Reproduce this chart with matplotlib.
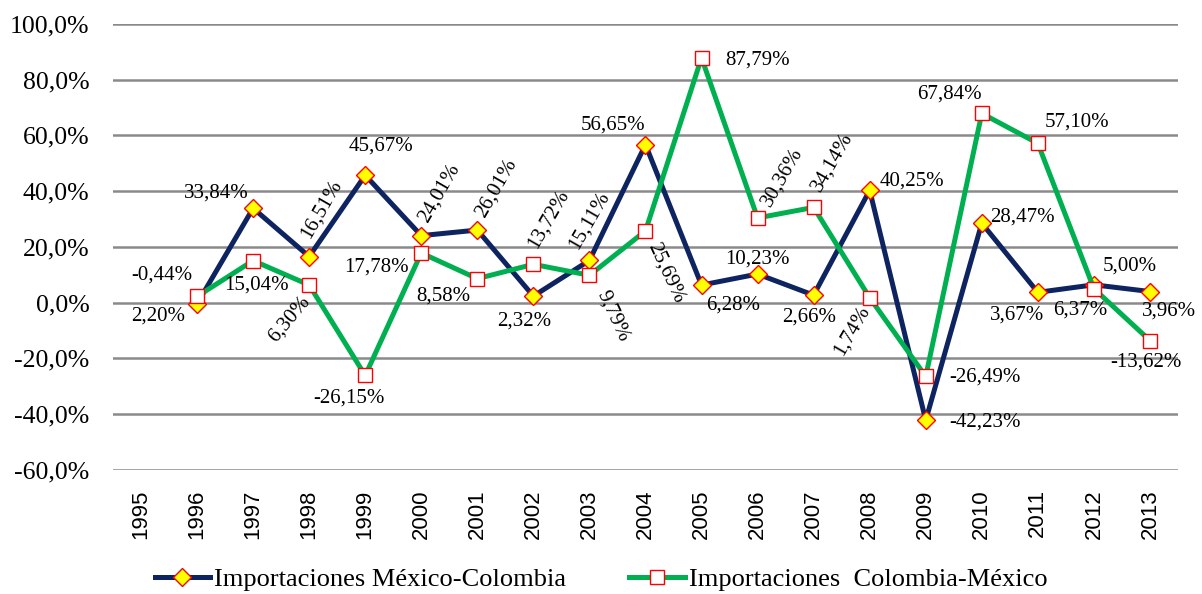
import numpy as np
import matplotlib
matplotlib.use("Agg")
import matplotlib.pyplot as plt
from matplotlib.ticker import FuncFormatter, MultipleLocator

years = [str(y) for y in range(1995, 2014)]

# variacion anual (%), 1996-2013
mex_col = [-0.44, 33.84, 16.51, 45.67, 24.01, 26.01, 2.32, 15.11, 56.65,
           6.28, 10.23, 2.66, 40.25, -42.23, 28.47, 3.67, 6.37, 3.96]
col_mex = [2.20, 15.04, 6.30, -26.15, 17.78, 8.58, 13.72, 9.79, 25.69,
           87.79, 30.36, 34.14, 1.74, -26.49, 67.84, 57.10, 5.00, -13.62]

names = ["Importaciones México-Colombia", "Importaciones  Colombia-México"]

# label placement (dx, dy in pixels, rotation)
mex_lbl = [(-35, 29, 0), (-37, 15, 0), (12, 47, 60), (16, 29, 0), (18, 43, 60),
           (19, 42, 60), (-9, -25, 0), (0, 40, 60), (-32, 20, 0), (32, -20, 0),
           (0, 15, 0), (-5, -22, 0), (42, 9, 0), (59, -2, 0), (41, 6, 0),
           (-21, -23, 0), (-14, -25, 0), (19, -20, 0)]
col_lbl = [(-39, -20, 0), (3, -24, 0), (-20, -34, 50), (-16, -23, 0), (-45, -14, 0),
           (-34, -17, 0), (15, 45, 60), (24, -41, -65), (20, -42, -65), (56, -2, 0),
           (25, 41, 60), (19, 45, 60), (-18, -33, 60), (59, -1, 0), (-32, 19, 0),
           (39, 21, 0), (36, 23, 0), (-4, -22, 0)]

serif = "Liberation Serif"
sans = "Liberation Sans"

fig = plt.figure(figsize=(12.02, 5.94), dpi=100)
ax = fig.add_axes([0.094, 0.209, 0.886, 0.751])

x = np.arange(1, len(years))

l1, = ax.plot(x, mex_col, color="#0d2461", lw=3.6, marker="D", ms=9,
              mfc="#ffff00", mec="#ff0000", mew=1.0, zorder=3)
l2, = ax.plot(x, col_mex, color="#00b050", lw=3.6, marker="s", ms=10,
              mfc="white", mec="#ff0000", mew=1.0, zorder=4)


def fmt(v):
    return f"{v:.2f}%".replace(".", ",")


for vals, lbls in ((mex_col, mex_lbl), (col_mex, col_lbl)):
    for xi, v, (dx, dy, rot) in zip(x, vals, lbls):
        ax.annotate(fmt(v), (xi, v), xytext=(dx, dy), textcoords="offset pixels",
                    ha="center", va="center", rotation=rot, rotation_mode="anchor",
                    fontsize=15, family=serif, zorder=5)

ax.set_xlim(-0.5, len(years) - 0.5)
ax.set_ylim(-60, 100)
ax.yaxis.set_major_locator(MultipleLocator(20))
ax.yaxis.set_major_formatter(FuncFormatter(lambda v, p: f"{v:.1f}%".replace(".", ",")))
ax.set_xticks(np.arange(len(years)))
ax.set_xticklabels(years, rotation=90, fontsize=16, family=sans)
for t in ax.get_yticklabels():
    t.set_fontfamily(serif)
    t.set_fontsize(18.5)
ax.tick_params(axis="both", length=0)
ax.tick_params(axis="x", pad=14)
ax.tick_params(axis="y", pad=17)

ax.grid(axis="y", color="#8a8a8a", lw=1.8)
ax.set_axisbelow(True)
for s in ax.spines.values():
    s.set_visible(False)

fig.legend([l1, l2], names, loc="center", bbox_to_anchor=(0.5, 0.024), ncol=2,
           frameon=False, prop={"family": serif, "size": 19}, handlelength=2.1,
           handletextpad=0.15, columnspacing=2.4, borderpad=0)

fig.savefig("out.png", dpi=100)
